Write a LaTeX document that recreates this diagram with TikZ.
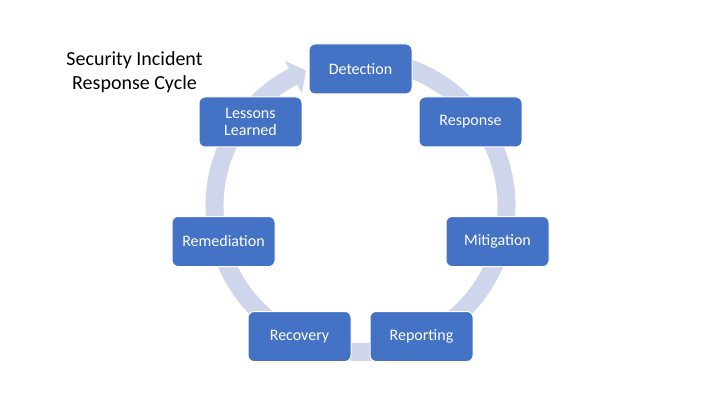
\documentclass[tikz,border=0pt]{standalone}
\usepackage{fontspec}
\setmainfont{Carlito}
\usepackage{tikz}
\usetikzlibrary{positioning}
\definecolor{stageblue}{HTML}{4472C4}
\definecolor{bandgrey}{HTML}{CFD5EA}

\begin{document}
\begin{tikzpicture}[x=1pt, y=1pt,
    stage/.style={rectangle, rounded corners=6pt, draw=white, line width=1pt, fill=stageblue, minimum width=103pt, minimum height=50pt, text=white, font=\fontsize{16}{17}\selectfont, align=center},
    band/.style={fill=bandgrey}
]
\useasboundingbox (0,0) rectangle (720,405);

% cycle arrow behind the boxes
\begin{scope}[shift={(360.5,199)}]
\fill[band] (80:155) arc[start angle=80, end angle=-242.5, radius=155] -- (117.5:163.5) -- (111.9:146) -- (117.5:127) -- (117.5:137) arc[start angle=-242.5, end angle=80, radius=137] -- cycle;
\end{scope}

\node[inner sep=0pt, align=center, font=\fontsize{20}{24}\selectfont] (title) at (134.5,332.5) {Security Incident\\Response Cycle};

\node[stage] (detect) at (360.5,336) {Detection};
\node[stage] (respond) at (470.5,283) {Response};
\node[stage] (mitig) at (497.5,163.5) {Mitigation};
\node[stage] (report) at (421.5,68.5) {Reporting};
\node[stage] (recover) at (299.5,68.5) {Recovery};
\node[stage] (remed) at (223.5,163.5) {Remediation};
\node[stage] (lessons) at (250.5,283) {Lessons\\Learned};
\end{tikzpicture}
\end{document}
